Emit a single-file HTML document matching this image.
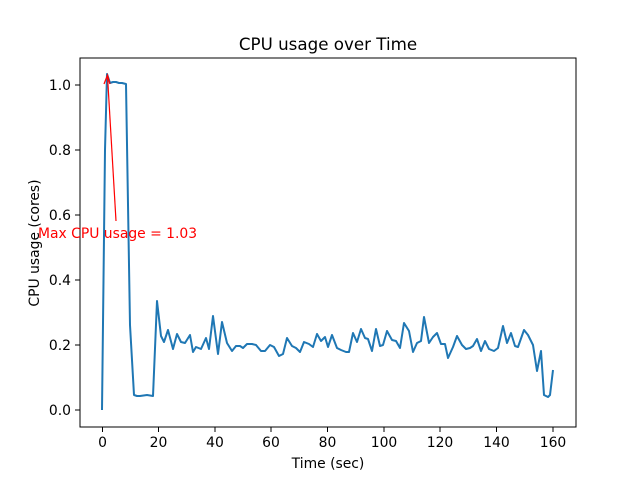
<!DOCTYPE html><html><head><style>body{margin:0;background:#fff}svg text{font-family:"DejaVu Sans","Liberation Sans",sans-serif}</style></head><body>
<svg width="640" height="480" xmlns="http://www.w3.org/2000/svg">
<rect width="640" height="480" fill="#fff"/>
<text x="328" y="50" font-size="16.7" text-anchor="middle">CPU usage over Time</text>
<polyline fill="none" stroke="#1f77b4" stroke-width="2" stroke-linejoin="round" points="102,410 105,150 107,74 110,83 113,82 116,82 119,83 122,83 126,84 130,325 134,395 137,396 140,396 147,395 153,396 157,301 161,336 164,342 168,330 173,349 177,334 181,342 185,343 190,335 193,352 196,347 201,349 206,338 209,349 213,316 218,354 222,322 227,343 232,351 236,346 240,346 243,348 247,344 252,344 256,345 261,351 265,351 270,345 274,347 279,356 283,354 287,338 292,346 296,348 300,352 304,342 309,344 313,347 317,334 321,341 325,337 328,347 332,335 337,348 341,350 346,352 349,352 353,333 357,342 361,329 365,338 368,339 372,351 376,329 380,346 383,345 387,331 392,340 396,341 400,348 404,323 409,331 413,352 417,343 421,341 424,317 429,343 433,337 437,333 441,344 445,344 448,358 453,347 457,336 462,345 466,349 470,348 473,346 477,339 481,351 485,341 489,349 494,351 498,348 503,326 507,343 511,333 515,346 518,347 524,330 528,335 533,345 537,371 541,351 544,395 548,397 550,395 553,370"/>
<rect x="80" y="58" width="496" height="369" fill="none" stroke="#000" stroke-width="1"/>
<g stroke="#000" stroke-width="1">
<line x1="102.5" y1="427" x2="102.5" y2="432"/><line x1="158.5" y1="427" x2="158.5" y2="432"/><line x1="215" y1="427" x2="215" y2="432"/><line x1="271" y1="427" x2="271" y2="432"/><line x1="327.5" y1="427" x2="327.5" y2="432"/><line x1="384" y1="427" x2="384" y2="432"/><line x1="440" y1="427" x2="440" y2="432"/><line x1="496.5" y1="427" x2="496.5" y2="432"/><line x1="553" y1="427" x2="553" y2="432"/>
<line x1="75" y1="410" x2="80" y2="410"/><line x1="75" y1="345" x2="80" y2="345"/><line x1="75" y1="280" x2="80" y2="280"/><line x1="75" y1="215" x2="80" y2="215"/><line x1="75" y1="150" x2="80" y2="150"/><line x1="75" y1="85" x2="80" y2="85"/>
</g>
<g font-size="13.9" text-anchor="middle">
<text x="102.5" y="447">0</text><text x="158.5" y="447">20</text><text x="215" y="447">40</text><text x="271" y="447">60</text><text x="327.5" y="447">80</text><text x="384" y="447">100</text><text x="440" y="447">120</text><text x="496.5" y="447">140</text><text x="553" y="447">160</text>
<text x="328" y="468">Time (sec)</text>
</g>
<g font-size="13.9" text-anchor="end">
<text x="71" y="415">0.0</text><text x="71" y="350">0.2</text><text x="71" y="285">0.4</text><text x="71" y="220">0.6</text><text x="71" y="155">0.8</text><text x="71" y="90">1.0</text>
</g>
<text transform="translate(39,243) rotate(-90)" font-size="13.9" text-anchor="middle">CPU usage (cores)</text>
<line x1="116" y1="221" x2="107.5" y2="76" stroke="red" stroke-width="1.2"/>
<path d="M104,84 L107.5,75 L110,84" fill="none" stroke="red" stroke-width="1.2"/>
<text x="38" y="238" font-size="13.9" fill="red">Max CPU usage = 1.03</text>
</svg>
</body></html>
